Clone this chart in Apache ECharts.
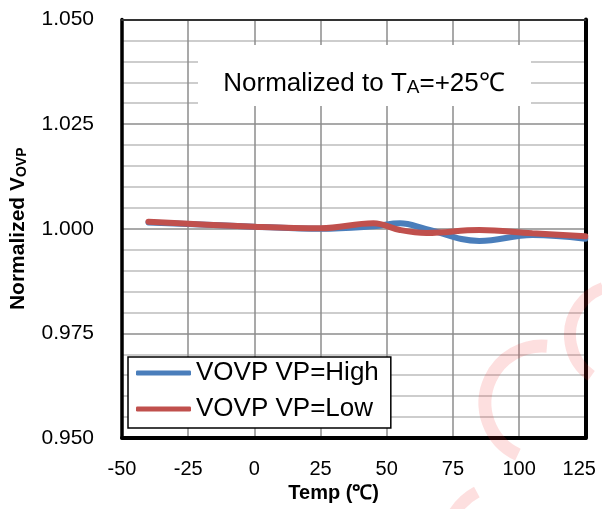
<!DOCTYPE html>
<html>
<head>
<meta charset="utf-8">
<script src="https://cdn.jsdelivr.net/npm/echarts@6/dist/echarts.min.js"></script>
<style>
  html, body { margin: 0; padding: 0; background: #fff; }
  #main { width: 602px; height: 509px; }
</style>
</head>
<body>
<div id="main"></div>
<script>
// temperature points (degC) and normalized VOVP
var temps = [-40, 0, 25, 45, 55, 65, 85, 105, 125]
var vpHigh = [1.0015, 1.0005, 1.0000, 1.0006, 1.0013, 0.9999, 0.9971, 0.9985, 0.9976]
var vpLow = [1.0017, 1.0005, 1.0001, 1.0013, 0.9997, 0.9990, 0.9997, 0.9989, 0.9982]
var seriesNames = ['VOVP VP=High', 'VOVP VP=Low']

var xMin = -50, xMax = 125, xStep = 25
var yMin = 0.950, yMax = 1.050, yStep = 0.025

var font = "'Liberation Sans', Arial, sans-serif"
var deg = Math.PI / 180

var toPairs = function (ys) { return temps.map(function (t, i) { return [t, ys[i]] }) }

var myChart = echarts.init(document.getElementById('main'))

var option = {
  animation: false,
  backgroundColor: '#fff',
  grid: { left: 120, right: 16.7, top: 19.5, bottom: 71 },
  legend: {
    left: 128, top: 357,
    orient: 'vertical',
    data: seriesNames,
    icon: 'roundRect',
    itemWidth: 55, itemHeight: 5, itemGap: 6,
    padding: [1, 12, 4, 8],
    backgroundColor: '#fff',
    borderColor: '#000', borderWidth: 1.5, borderRadius: 0,
    textStyle: { fontFamily: font, fontSize: 26, color: '#000', lineHeight: 30 }
  },
  xAxis: [{
    type: 'value', min: xMin, max: xMax, interval: xStep,
    name: 'Temp (℃)', nameLocation: 'middle', nameGap: 44,
    nameTextStyle: { fontFamily: font, fontSize: 20, fontWeight: 'bold', color: '#000', padding: [0, 40, 0, 0] },
    axisLine: { onZero: false, lineStyle: { color: '#000', width: 4 } },
    axisTick: { show: false },
    axisLabel: {
      fontFamily: font, fontSize: 20, color: '#000', margin: 21,
      formatter: function (v) { return v === xMax ? '{r|' + v + '}' : String(v) },
      rich: { r: { fontFamily: font, fontSize: 20, color: '#000', padding: [0, 12, 0, 0] } }
    },
    splitLine: { show: true, lineStyle: { color: '#8c8c8c', width: 1.5 } }
  }, {
    type: 'value', min: xMin, max: xMax, position: 'top',
    axisLine: { onZero: false, lineStyle: { color: '#333', width: 2 } },
    axisTick: { show: false }, axisLabel: { show: false }, splitLine: { show: false }
  }],
  yAxis: [{
    type: 'value', min: yMin, max: yMax, interval: yStep,
    name: '{a|Normalized V}{b|OVP}', nameLocation: 'middle', nameGap: 93,
    nameTextStyle: {
      rich: {
        a: { fontFamily: font, fontSize: 21, fontWeight: 'bold', color: '#000', verticalAlign: 'bottom', lineHeight: 23 },
        b: { fontFamily: font, fontSize: 14, fontWeight: 'bold', color: '#000', verticalAlign: 'bottom', lineHeight: 16 }
      }
    },
    axisLine: { onZero: false, lineStyle: { color: '#000', width: 3.5 } },
    axisTick: { show: false },
    axisLabel: {
      fontFamily: font, fontSize: 21, color: '#000', margin: 28,
      formatter: function (v) { return v.toFixed(3) }
    },
    splitLine: { show: true, lineStyle: { color: '#8c8c8c', width: 1.5 } },
    minorTick: { show: false, splitNumber: 5 },
    minorSplitLine: { show: true, lineStyle: { color: '#bdbdbd', width: 1.5 } }
  }, {
    type: 'value', min: yMin, max: yMax, position: 'right',
    axisLine: { show: true, onZero: false, lineStyle: { color: '#000', width: 4 } },
    axisTick: { show: false }, axisLabel: { show: false }, splitLine: { show: false }
  }],
  series: [{
    name: seriesNames[0], type: 'line', smooth: 0.4, showSymbol: false, symbol: 'none',
    color: '#4a7ebb',
    lineStyle: { width: 6, color: '#4a7ebb', cap: 'round' },
    data: toPairs(vpHigh), z: 3
  }, {
    name: seriesNames[1], type: 'line', smooth: 0.4, showSymbol: false, symbol: 'none',
    color: '#c0504d',
    lineStyle: { width: 6, color: '#c0504d', cap: 'round' },
    data: toPairs(vpLow), z: 4
  }],
  graphic: [
    // faint watermark strokes
    { type: 'arc', z: 50, silent: true,
      shape: { cx: 542, cy: 403, r: 57, startAngle: 115 * deg, endAngle: 275 * deg, clockwise: true },
      style: { stroke: 'rgba(240, 40, 40, 0.15)', lineWidth: 13, fill: null, lineCap: 'butt' } },
    { type: 'arc', z: 50, silent: true,
      shape: { cx: 620, cy: 335, r: 50, startAngle: 125 * deg, endAngle: 250 * deg, clockwise: true },
      style: { stroke: 'rgba(240, 40, 40, 0.15)', lineWidth: 12, fill: null, lineCap: 'butt' } },
    { type: 'arc', z: 50, silent: true,
      shape: { cx: 505, cy: 545, r: 60, startAngle: 210 * deg, endAngle: 242 * deg, clockwise: true },
      style: { stroke: 'rgba(240, 40, 40, 0.15)', lineWidth: 12, fill: null, lineCap: 'butt' } },
    // annotation box
    { type: 'rect', z: 100, silent: true,
      shape: { x: 198, y: 45, width: 333, height: 61 },
      style: { fill: '#fff' } },
    { type: 'text', z: 101, silent: true, x: 364, y: 82,
      style: {
        text: '{n|Normalized to T}{s|A}{n|=+25℃}',
        align: 'center', verticalAlign: 'middle',
        rich: {
          n: { fontFamily: font, fontSize: 26, color: '#000', verticalAlign: 'bottom', lineHeight: 30 },
          s: { fontFamily: font, fontSize: 19, color: '#000', verticalAlign: 'bottom', lineHeight: 22 }
        }
      } }
  ]
}

myChart.setOption(option)
</script>
</body>
</html>
